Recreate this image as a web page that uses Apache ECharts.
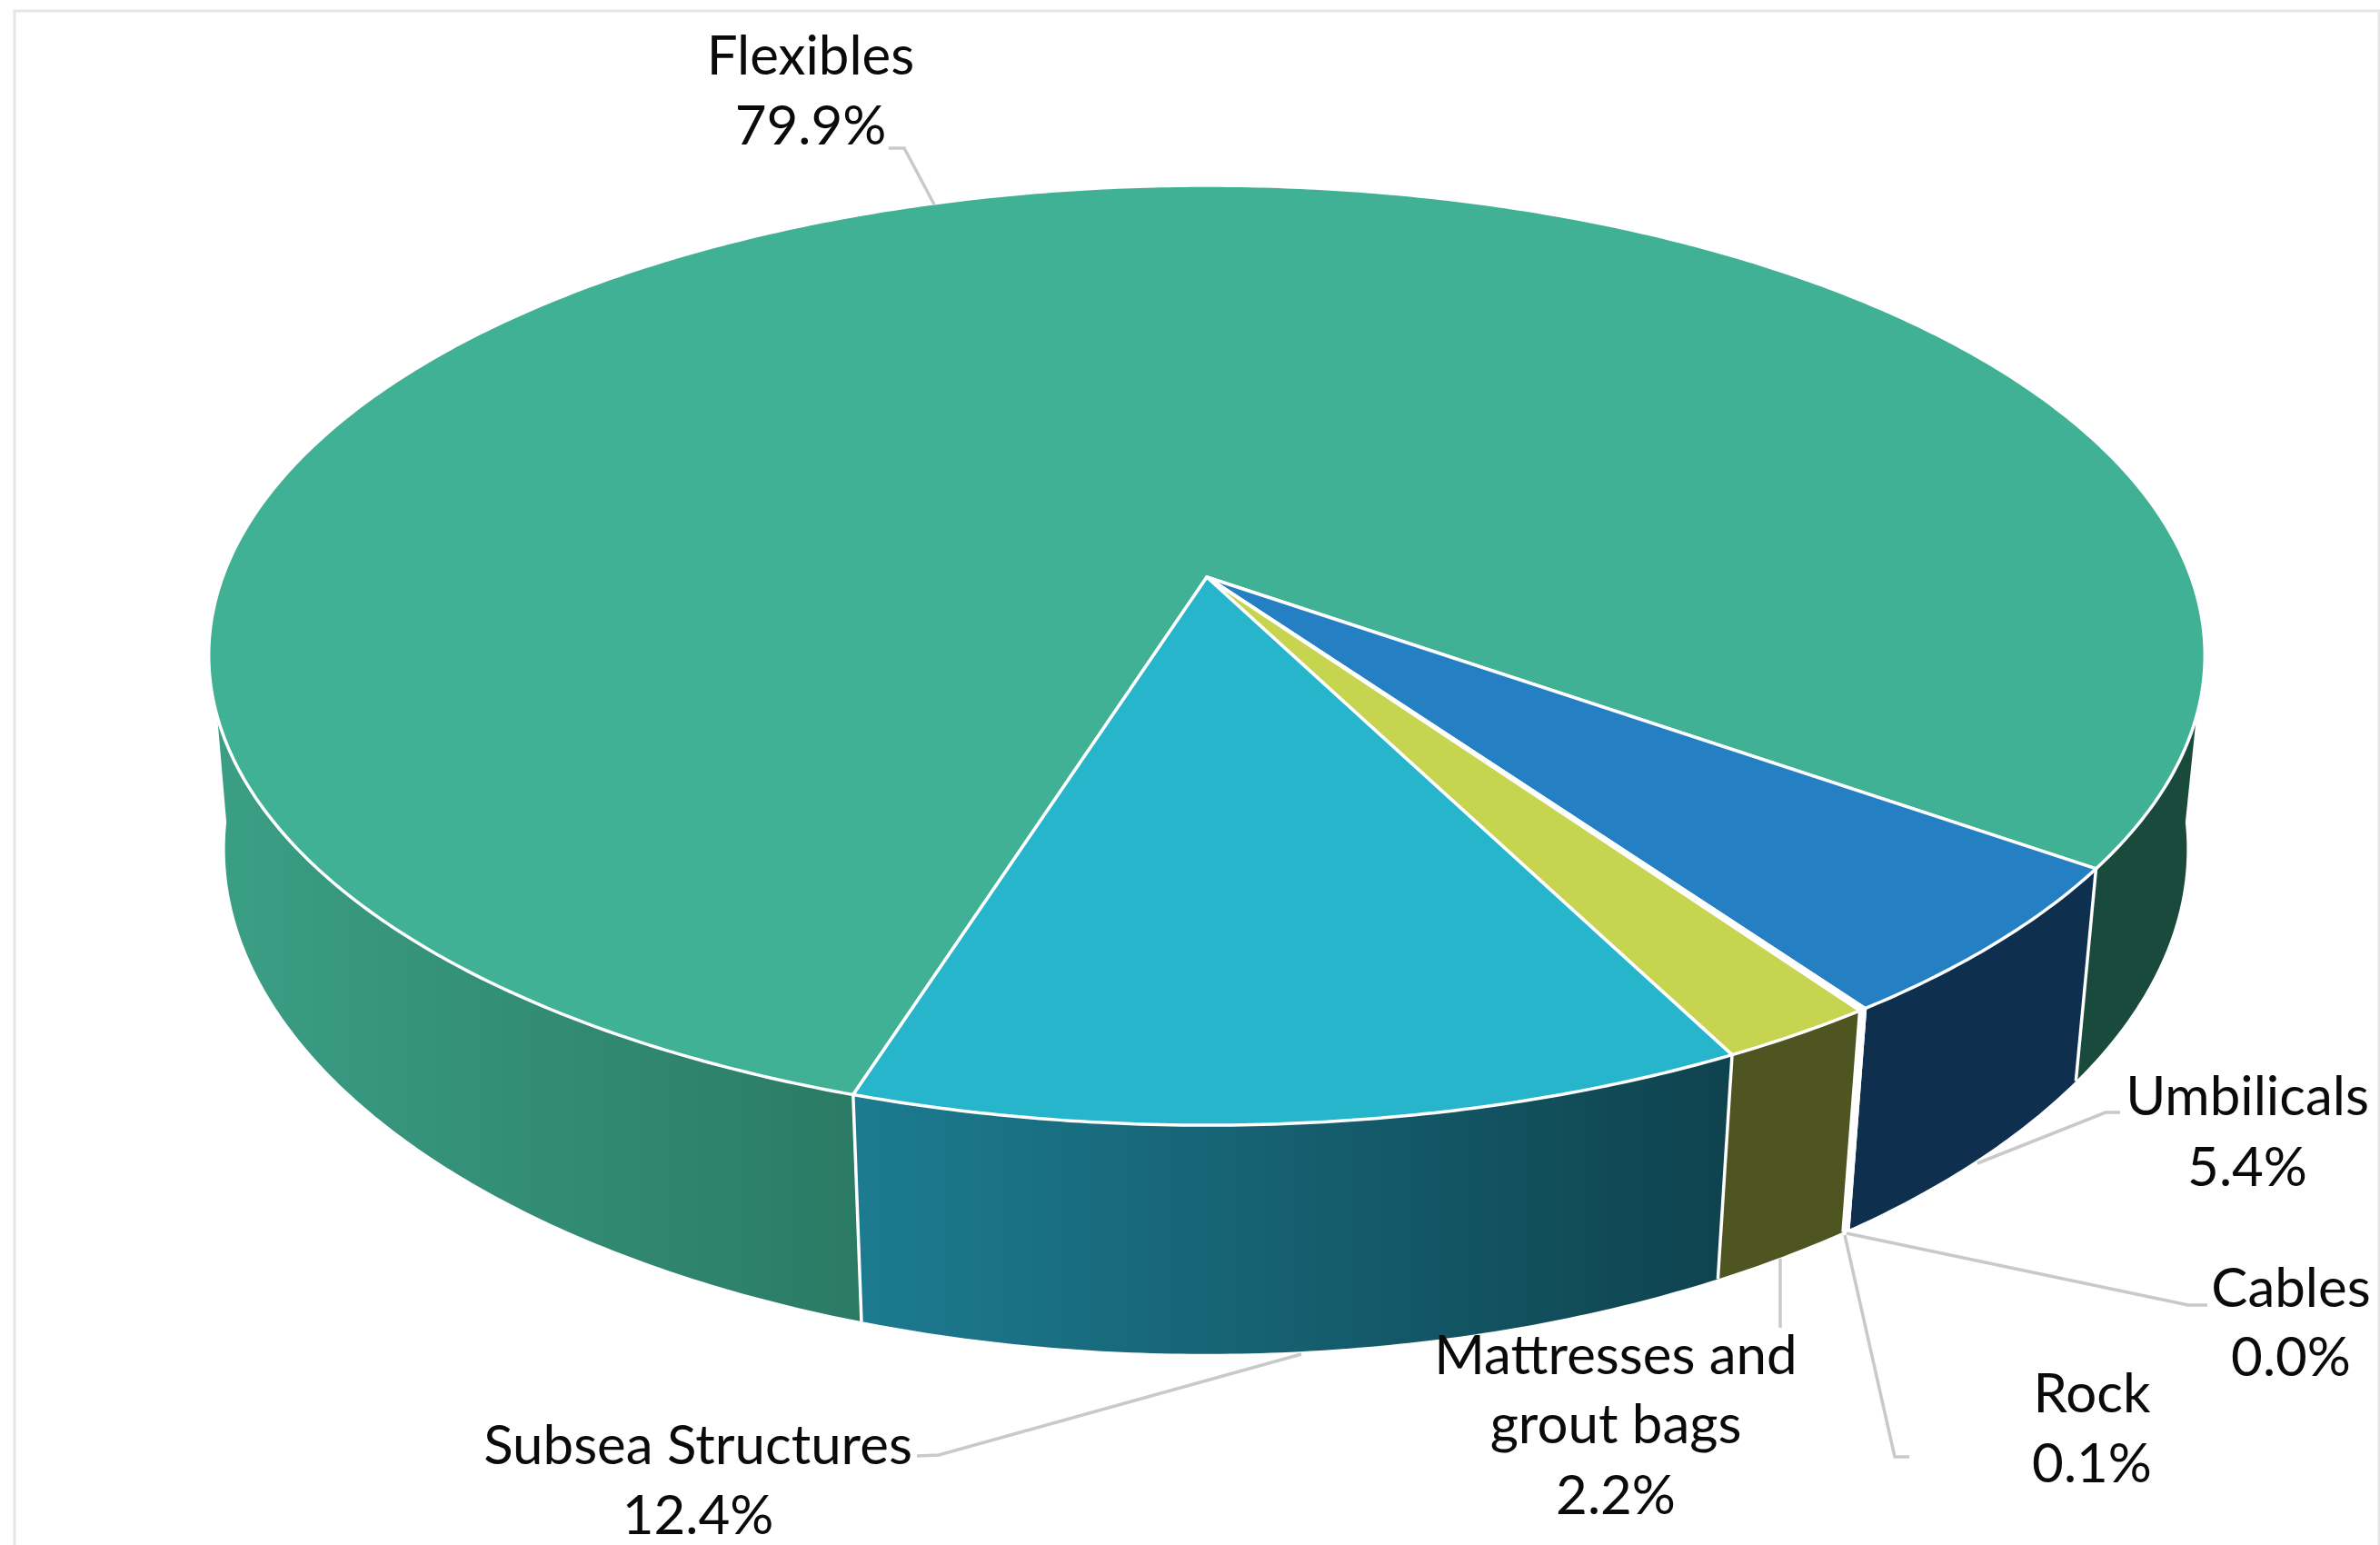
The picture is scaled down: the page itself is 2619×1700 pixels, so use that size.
<!DOCTYPE html>
<html><head><meta charset="utf-8">
<style>html,body{margin:0;padding:0;background:#fff}#c{width:2619px;height:1700px}</style>
<script src="https://cdn.jsdelivr.net/npm/echarts@6/dist/echarts.min.js"></script>
</head><body><div id="c"></div>
<script>
// --- data (clockwise from the first slice) ---
const categories = ['Flexibles','Umbilicals','Cables','Rock','Mattresses and\ngrout bags','Subsea Structures'];
const shares = [79.9,5.4,0.0,0.1,2.2,12.4];
// --- colours ---
const topColors = ['#40b195','#2480c3','#ffffff','#ffffff','#c6d44f','#27b5cc'];
const sideFrom = ['#3a9e85','#0f2f4e','#ffffff','#ffffff','#4f5520','#1c7b90'];
const sideTo   = ['#2b7a64','#0f2f4e','#ffffff','#ffffff','#4f5520','#0f434f'];
const flexRightSide = '#1a4a3c';
// --- layout of the projected disc ---
const startAngle = 197.6, apexX = 1328, bottomX = 1327, topY = 635, bottomY = 848;
const persp = 0.1664, bottomPerspX = 0.157, topA = 502.7, bottomA = 535, topB = 1083, bottomB = 1066;
const topLimit = 73.1, bottomLimit = 84; // wall visibility either side of the front
// --- label layout: centre x, baseline of each line ---
const labelX = [892,2473,2521,2302,1778,768];
const labelBaselines = [[80,157],[1225,1303],[1436,1512],[1552,1629],[1510,1586,1664],[1609,1686]];
const leaders = [
 [[978,163],[995,163],[1028,225]],
 [[2333,1224],[2317,1224],[2176,1280]],
 [[2429,1436],[2408,1436],[2032,1357]],
 [[2101,1603],[2085,1603],[2030,1359]],
 [[1959,1385],[1959,1461]],
 [[1432,1490],[1033,1601],[1009,1602]]
];
const fontFamily='Lato', fontSize=60, baselineShift=13;
const total = shares.reduce((a,b)=>a+b,0);

function proj(deg,level){
  const t=deg*Math.PI/180,u=Math.sin(t),v=-Math.cos(t),w=1-persp*v;
  return level===0 ? [apexX+topB*u/w, topY+topA*v/w] : [bottomX+bottomB*u/(1-bottomPerspX*v), bottomY+bottomA*v/w];
}
function arc(a,b,level){
  const n=Math.max(2,Math.ceil(Math.abs(b-a)/0.5)),p=[];
  for(let i=0;i<=n;i++)p.push(proj(a+(b-a)*i/n,level));
  return p;
}
function renderItem(params,api){
  const i=params.dataIndex;
  const val=api.value(0);
  let before=0; for(let k=0;k<i;k++)before+=shares[k];
  const s=startAngle+before/total*360, e=s+val/total*360;
  const kids=[];
  // top face
  const shape={points:[[apexX,topY]].concat(arc(s,e,0))};
  kids.push({type:'polygon',shape,z2:5,style:{fill:topColors[i],stroke:'#fff',lineWidth:3.5,lineJoin:'round'}});
  // walls: front window is 180±limit, repeated every 360
  [180,540].forEach(c=>{
    const lo=Math.max(s,c-topLimit),hi=Math.min(e,c+topLimit);
    if(hi<lo)return;
    const lo2=(s<=c-topLimit)?c-bottomLimit:lo, hi2=(e>=c+topLimit)?c+bottomLimit:hi;
    const pts=arc(lo,hi,0).concat(arc(hi2,lo2,1));
    const side=c===540&&i===0;
    const a=proj(lo2,1)[0],b=proj(hi2,1)[0];
    const fill=side?flexRightSide:{type:'linear',x:Math.min(a,b),y:0,x2:Math.max(a,b),y2:0,global:true,
      colorStops:[{offset:0,color:sideFrom[i]},{offset:1,color:sideTo[i]}]};
    kids.push({type:'polygon',shape:{points:pts},z2:2,style:{fill:fill}});
  });
  // white wall edge at the slice's start
  const m=((s%360)+360)%360;
  if(m>180-topLimit&&m<180+topLimit){
    const p0=proj(m,0),p1=proj(m,1);
    kids.push({type:'line',shape:{x1:p0[0],y1:p0[1],x2:p1[0],y2:p1[1]},z2:3,style:{stroke:'#fff',lineWidth:3.5}});
  }
  // leader
  kids.push({type:'polyline',shape:{points:leaders[i]},z2:6,style:{fill:'none',stroke:'#c9c9c9',lineWidth:3.5}});
  // label
  const lines=categories[i].split('\n').concat([val.toFixed(1)+'%']);
  lines.forEach((t,j)=>{
    kids.push({type:'text',z2:7,x:labelX[i],y:labelBaselines[i][j]+baselineShift,
      style:{text:t,fill:'#0a0a0a',font:fontSize+'px '+fontFamily,align:'center',verticalAlign:'bottom',lineHeight:fontSize}});
  });
  return {type:'group',children:kids};
}
const chart=echarts.init(document.getElementById('c'),null,{renderer:'canvas'});
chart.setOption({
  animation:false,backgroundColor:'#fff',
  graphic:[{type:'rect',shape:{x:16,y:12,width:2602,height:1700},silent:true,z:-1,style:{fill:'none',stroke:'#e6e6e6',lineWidth:3}}],
  series:[{type:'custom',coordinateSystem:'none',renderItem,silent:true,clip:false,
    data:categories.map((n,i)=>({name:n,value:shares[i]}))}]
});
</script></body></html>
